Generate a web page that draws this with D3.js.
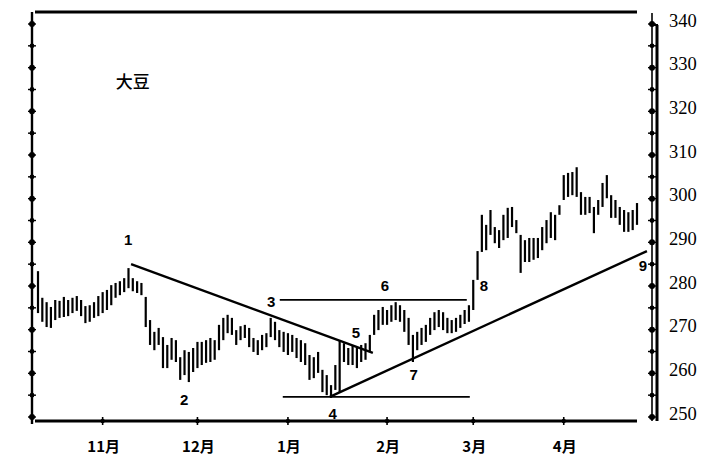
<!DOCTYPE html>
<html><head><meta charset="utf-8">
<script src="https://cdn.jsdelivr.net/npm/d3@7"></script>
<style>body{margin:0;background:#fff}svg{display:block}</style>
</head><body>
<svg id="c" width="719" height="466"></svg>
<script>
// ---- data (daily bars) ----
const highs=[
283.4,277.3,276.3,275.2,276.8,276.6,277.5,276.8,277.3,277.7,
276.8,275.4,275.6,276.3,277.7,278.6,279.1,280.2,280.7,281.1,
281.8,284.1,281.8,281.1,280.7,277.5,272.2,269.5,270.4,268.3,
266.5,268.1,267.6,263.7,265.3,264.9,265.8,267.2,267.2,267.6,
268.1,267.6,271.1,272.7,273.4,272.7,269.9,270.8,271.1,270.4,
268.1,267.6,268.8,269.2,272.7,271.8,269.9,269.5,269.2,268.8,
268.1,267.6,266.9,264.2,263.7,264.9,260.8,259.6,257.3,261.9,
267.6,266.9,265.8,266.5,265.8,266.5,266.9,268.8,273.4,274.5,
275.2,274.5,275.6,276.3,275.6,274.5,272.7,268.8,269.5,270.4,
271.1,272.7,274.0,274.5,274.0,272.7,272.2,272.7,273.4,274.5,
275.6,281.4,288.0,296.3,294.0,297.4,293.5,292.8,296.3,297.9,
298.1,295.1,291.7,290.5,291.0,291.0,291.0,293.5,295.1,296.9,
296.3,298.5,305.4,305.9,306.1,307.2,301.5,300.4,300.4,298.1,
299.7,303.6,305.4,300.8,299.7,298.1,297.4,296.9,297.4,299.0];
const lows=[
273.8,271.8,270.6,270.4,272.2,272.7,272.9,273.1,273.8,274.3,
273.1,271.5,271.8,272.7,273.1,273.8,274.5,275.6,277.3,277.9,
278.6,279.5,278.8,278.4,277.9,270.6,266.5,265.3,266.5,261.2,
261.2,263.1,262.6,258.5,259.6,258.0,260.3,261.2,261.9,262.4,
262.6,263.1,265.3,267.6,269.2,268.8,266.5,267.6,268.1,266.0,
264.9,264.2,265.3,266.0,268.3,267.6,266.0,264.9,264.2,264.9,
263.5,262.6,261.9,258.5,258.9,260.1,255.7,255.0,254.4,256.2,
255.5,262.6,261.9,261.9,261.2,262.6,263.1,264.9,268.8,269.9,
271.1,271.1,271.8,272.2,271.8,269.5,266.5,262.6,265.3,266.5,
267.2,268.8,269.9,270.6,269.9,269.2,269.2,269.5,270.4,271.3,
271.8,274.5,281.4,287.8,288.2,291.7,289.8,288.7,290.5,291.0,
293.5,292.1,283.0,285.5,285.5,286.0,286.4,288.2,289.8,291.0,
290.5,296.3,299.7,300.4,300.8,300.4,296.3,296.3,296.7,292.1,
296.3,298.1,300.1,295.6,295.6,294.0,292.4,292.4,292.8,294.0];
const priceTicks=[250,260,270,280,290,300,310,320,330,340];
const minorTicks=[250,255,260,265,270,275,280,285,290,295,300,305,310,315,320,325,330,335,340];
const months=["11月","12月","1月","2月","3月","4月"];
const monthIdx=[15,37,58,81,101,122];
// trend / level lines: [barIndex, price]
const downTrend=[[21.6,285.0],[77.7,264.7]];
const upTrend=[[67.7,254.6],[141.3,288.0]];
const resistance=[[56.1,276.8],[99.5,276.8]];
const support=[[56.8,254.6],[100.2,254.6]];
const labelText=["1","2","3","4","5","6","7","8","9"];
const labelIdx=[20.9,33.9,54.1,68.4,73.8,80.5,87.2,103.5,140.4];
const labelPrice=[290.5,253.9,276.3,250.7,269.2,280.0,259.6,280.0,284.6];
const title="大豆", titleIdx=22, titlePrice=326.7;

// ---- drawing ----
const svg=d3.select("#c");
const N=highs.length;
const x=d3.scaleLinear().domain([0,N-1]).range([38,637]);
const y=d3.scaleLinear().domain([250,340]).range([417,24]);

const frameL=32, frameR1=652, frameR2=657, frameTop=12, frameBottom=421;

// frame
svg.append("line").attr("x1",35).attr("x2",637).attr("y1",frameTop).attr("y2",frameTop)
  .attr("stroke","#000").attr("stroke-width",3.2);
svg.append("line").attr("x1",35).attr("x2",637).attr("y1",frameBottom).attr("y2",frameBottom)
  .attr("stroke","#000").attr("stroke-width",3.2);
svg.append("line").attr("x1",frameL).attr("x2",frameL).attr("y1",frameTop).attr("y2",frameBottom+3)
  .attr("stroke","#000").attr("stroke-width",2.4);
svg.append("line").attr("x1",frameR1).attr("x2",frameR1).attr("y1",frameTop+1).attr("y2",frameBottom)
  .attr("stroke","#000").attr("stroke-width",1.6);
svg.append("line").attr("x1",frameR2).attr("x2",frameR2).attr("y1",y(340)+1).attr("y2",frameBottom)
  .attr("stroke","#000").attr("stroke-width",3);
svg.append("line").attr("x1",frameR1).attr("x2",frameR2+1).attr("y1",y(340)+1).attr("y2",y(340)+1)
  .attr("stroke","#000").attr("stroke-width",2);

// axis dots
[frameL,frameR1].forEach(ax=>{
  svg.append("g").selectAll("circle").data(minorTicks).join("circle")
    .attr("cx",ax).attr("cy",d=>y(d)).attr("r",d=>d%10===0?3:2.4).attr("fill","#000");
  svg.append("g").selectAll("line").data(minorTicks).join("line")
    .attr("x1",ax-4).attr("x2",ax+4).attr("y1",d=>y(d)).attr("y2",d=>y(d))
    .attr("stroke","#000").attr("stroke-width",1.4);
});

// right tick labels
svg.append("g").selectAll("text").data(priceTicks).join("text")
  .attr("x",669).attr("y",d=>y(d)).attr("dy","0.15em")
  .attr("font-family","'Liberation Serif','Times New Roman',serif").attr("font-size",18.5)
  .text(d=>d);

// bottom month ticks and labels
svg.append("g").selectAll("line").data(monthIdx).join("line")
  .attr("x1",d=>x(d)).attr("x2",d=>x(d)).attr("y1",frameBottom-4).attr("y2",frameBottom+4)
  .attr("stroke","#000").attr("stroke-width",1.6);
svg.append("g").selectAll("circle").data(monthIdx).join("circle")
  .attr("cx",d=>x(d)).attr("cy",frameBottom).attr("r",2.2).attr("fill","#000");
svg.append("g").selectAll("text").data(months).join("text")
  .attr("x",(d,i)=>x(monthIdx[i])+1).attr("y",447).attr("dy","0.35em")
  .attr("text-anchor","middle").attr("font-family","'Noto Sans CJK SC',sans-serif")
  .attr("font-weight","bold").attr("font-size",15).text(d=>d);

// bars
svg.append("g").selectAll("line").data(highs).join("line")
  .attr("x1",(d,i)=>x(i)).attr("x2",(d,i)=>x(i))
  .attr("y1",d=>y(d)).attr("y2",(d,i)=>y(lows[i]))
  .attr("stroke","#000").attr("stroke-width",2.2);

// trend lines
const ln=d3.line().x(d=>x(d[0])).y(d=>y(d[1]));
[[downTrend,2.4],[upTrend,2.4],[resistance,1.8],[support,1.8]].forEach(([pts,w])=>{
  svg.append("path").attr("d",ln(pts)).attr("fill","none").attr("stroke","#000").attr("stroke-width",w);
});

// annotation labels
svg.append("g").selectAll("text").data(labelText).join("text")
  .attr("x",(d,i)=>x(labelIdx[i])).attr("y",(d,i)=>y(labelPrice[i])).attr("dy","0.35em")
  .attr("text-anchor","middle").attr("font-family","'Liberation Sans',Arial,sans-serif")
  .attr("font-weight","bold").attr("font-size",15).text(d=>d);

svg.append("text").attr("x",x(titleIdx)).attr("y",y(titlePrice)).attr("dy","0.35em")
  .attr("text-anchor","middle").attr("font-family","'Noto Sans CJK SC',sans-serif")
  .attr("font-weight","500").attr("font-size",17).text(title);
</script>
</body></html>
